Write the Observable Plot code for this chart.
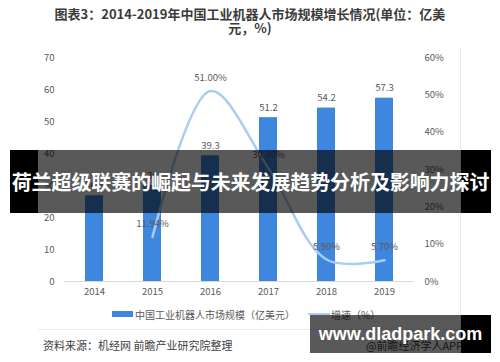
<!DOCTYPE html>
<html>
<head>
<meta charset="utf-8">
<script src="https://cdn.jsdelivr.net/npm/d3@7"></script>
<script src="https://cdn.jsdelivr.net/npm/@observablehq/plot@0.6"></script>
<style>
  html, body { margin: 0; padding: 0; background: #fff; }
  #wrap { position: relative; width: 500px; height: 362px; overflow: hidden; font-family: "Noto Sans CJK SC", "Noto Sans", sans-serif; }
  #chart { position: absolute; left: 0; top: 0; }
  .abs { position: absolute; }
  #title { left: 0; width: 500px; top: 7px; text-align: center; font-weight: bold; font-size: 13px; line-height: 14px; color: #3b3b3b; }
  .legtxt { font-size: 10px; color: #595959; line-height: 12px; white-space: nowrap; }
  #source { left: 43px; top: 337px; font-size: 11px; color: #404040; white-space: nowrap; }
  #app { left: 366px; top: 337px; font-size: 11px; color: #404040; white-space: nowrap; }
  #banner { left: 10px; top: 150px; width: 481px; height: 63px; display: flex; align-items: center; justify-content: center; color: #fff; font-weight: bold; font-size: 20px; white-space: nowrap; letter-spacing: -0.1px; }
  #wm { left: 310px; top: 315px; width: 181px; height: 38px; display: flex; align-items: center; justify-content: center; color: #fff; font-weight: bold; font-size: 18px; font-family: "Liberation Sans", Arial, sans-serif; }
</style>
</head>
<body>
<div id="wrap">
  <div id="chart"></div>
</div>
<script>
// ---- data ----
const years = ["2014", "2015", "2016", "2017", "2018", "2019"];
const marketSize = [26.8, 30, 39.3, 51.2, 54.2, 57.3];          // 亿美元
const growthRate = [null, 11.94, 51.00, 30.30, 5.90, 5.70];     // %
const leftTicks = [0, 10, 20, 30, 40, 50, 60, 70];
const rightTicks = [0, 10, 20, 30, 40, 50, 60];
const titleLine1 = "图表3：2014-2019年中国工业机器人市场规模增长情况(单位：亿美";
const titleLine2 = "元，%)";
const seriesBarName = "中国工业机器人市场规模（亿美元）";
const seriesLineName = "增速（%）";
const sourceText = "资料来源：机经网 前瞻产业研究院整理";
const appText = "@前瞻经济学人APP";
const bannerText = "荷兰超级联赛的崛起与未来发展趋势分析及影响力探讨";
const watermarkText = "www.dladpark.com";

const barColor = "#3f86df";
const lineColor = "#a8ccf2";
const ratio = 70 / 60; // right-axis % to left-axis units

const rows = years.map((y, i) => ({ year: y, size: marketSize[i], growth: growthRate[i] }));
const growthRows = rows.filter(d => d.growth != null);

const chart = Plot.plot({
  width: 500,
  height: 362,
  marginTop: 57,
  marginBottom: 81,
  marginLeft: 64,
  marginRight: 86,
  style: { fontFamily: "'Noto Sans CJK SC', 'Noto Sans', sans-serif", fontSize: "9.5px", color: "#595959", background: "transparent", overflow: "visible" },
  x: { domain: years, paddingInner: 0.69, paddingOuter: 0.345, label: null },
  y: { domain: [0, 70], label: null },
  marks: [
    Plot.ruleY([0], { stroke: "#d9d9d9", strokeWidth: 1 }),
    Plot.barY(rows, { x: "year", y: "size", fill: barColor }),
    Plot.line(growthRows, { x: "year", y: d => d.growth * ratio, curve: "catmull-rom", stroke: lineColor, strokeWidth: 2.5 }),
    Plot.text(rows, { x: "year", y: "size", text: d => String(d.size), dy: -10, fill: "#595959" }),
    Plot.text(growthRows, { x: "year", y: d => d.growth * ratio, text: d => d.growth.toFixed(2) + "%", dy: -13, fill: "#595959" }),
    Plot.axisX({ tickSize: 0, tickPadding: 7, label: null, fill: "#595959" }),
    Plot.axisY({ anchor: "left", ticks: leftTicks, tickSize: 0, tickPadding: 10, label: null, fill: "#595959" }),
    Plot.axisY({ anchor: "right", ticks: rightTicks.map(v => v * ratio), tickFormat: d => Math.round(d / ratio) + "%", tickSize: 0, tickPadding: 10, label: null, fill: "#595959" })
  ]
});
document.getElementById("chart").appendChild(chart);

const wrap = document.getElementById("wrap");
function add(html, cls, id, style) {
  const el = document.createElement("div");
  el.className = "abs " + (cls || "");
  if (id) el.id = id;
  if (style) el.setAttribute("style", style);
  el.innerHTML = html;
  wrap.appendChild(el);
  return el;
}
// title
add(titleLine1 + "<br>" + titleLine2, "", "title");
// frame lines of chart panel
add("", "", null, "left:460px;top:47px;width:1px;height:282px;background:#e4ebf4;");
add("", "", null, "left:38px;top:329px;width:423px;height:1px;background:#e4ebf4;");
// legend
add("", "", null, `left:112px;top:311px;width:21px;height:6px;background:${barColor};`);
add(seriesBarName, "legtxt", null, "left:135px;top:309px;");
add("", "", null, `left:308px;top:313px;width:22px;height:2px;background:${lineColor};`);
add(seriesLineName, "legtxt", null, "left:331px;top:309px;");
// source
add(sourceText, "", "source");
add(appText, "", "app");
// banner overlay
add("", "", null, "left:10px;top:150px;width:28px;height:63px;background:#000;");
add("", "", null, "left:38px;top:150px;width:423px;height:63px;background:rgba(0,0,0,0.65);");
add("", "", null, "left:461px;top:150px;width:30px;height:63px;background:#000;");
add(bannerText, "", "banner");
// watermark overlay
add("", "", null, "left:310px;top:315px;width:151px;height:38px;background:rgba(0,0,0,0.65);");
add("", "", null, "left:461px;top:315px;width:30px;height:38px;background:#000;");
add(watermarkText, "", "wm");
</script>
</body>
</html>
